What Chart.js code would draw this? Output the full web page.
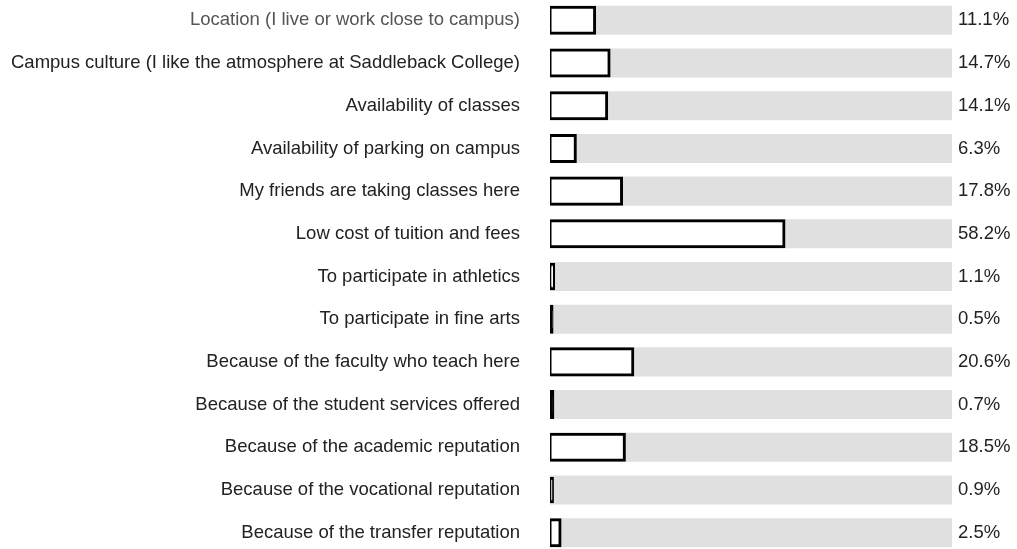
<!DOCTYPE html>
<html>
<head>
<meta charset="utf-8">
<title>Reasons for choosing Saddleback College</title>
<script src="https://cdn.jsdelivr.net/npm/chart.js"></script>
<style>
  html, body { margin: 0; padding: 0; background: #ffffff; overflow: hidden; }
  #wrap { position: absolute; left: 0; top: -1px; width: 1017px; height: 555px; }
</style>
</head>
<body>
<div id="wrap"><canvas id="chart" width="1017" height="555"></canvas></div>
<script>
// Survey reasons, top to bottom
const categories = [
  "Location (I live or work close to campus)",
  "Campus culture (I like the atmosphere at Saddleback College)",
  "Availability of classes",
  "Availability of parking on campus",
  "My friends are taking classes here",
  "Low cost of tuition and fees",
  "To participate in athletics",
  "To participate in fine arts",
  "Because of the faculty who teach here",
  "Because of the student services offered",
  "Because of the academic reputation",
  "Because of the vocational reputation",
  "Because of the transfer reputation"
];

// Share of respondents (%)
const shares = [11.1, 14.7, 14.1, 6.3, 17.8, 58.2, 1.1, 0.5, 20.6, 0.7, 18.5, 0.9, 2.5];

// Full-width grey track behind each bar (100%)
const track = [100, 100, 100, 100, 100, 100, 100, 100, 100, 100, 100, 100, 100];

// Right-hand labels
const shareLabels = shares.map(v => v.toFixed(1) + "%");

const FONT = { family: "'Liberation Sans', Arial, Helvetica, sans-serif", size: 18.5 };
const STROKE = 3;

// Pixel width of a bar, used to keep the outline centred on the bar edge
function barWidthPx(ctx) {
  const x = ctx.chart.scales && ctx.chart.scales.x;
  if (!x || ctx.raw == null) return 100;
  return Math.abs(x.getPixelForValue(ctx.raw) - x.getPixelForValue(0));
}

new Chart(document.getElementById("chart"), {
  type: "bar",
  data: {
    labels: categories,
    datasets: [
      {
        data: shares,
        backgroundColor: ctx => barWidthPx(ctx) <= STROKE ? "#000000" : "#ffffff",
        borderColor: "#000000",
        borderWidth: STROKE,
        borderSkipped: false,
        inflateAmount: ctx => {
          const w = barWidthPx(ctx);
          return (w >= 2 * STROKE || w <= STROKE) ? STROKE / 2 : (w - STROKE) / 2;
        },
        barPercentage: 0.61,
        categoryPercentage: 1,
        grouped: false,
        order: 0
      },
      {
        data: track,
        backgroundColor: "#e0e0e0",
        borderWidth: 0,
        inflateAmount: 0,
        barPercentage: 0.68,
        categoryPercentage: 1,
        grouped: false,
        order: 1
      }
    ]
  },
  options: {
    indexAxis: "y",
    responsive: false,
    animation: false,
    devicePixelRatio: 1,
    layout: { padding: 0 },
    plugins: { legend: { display: false }, tooltip: { enabled: false } },
    scales: {
      x: { type: "linear", min: 0, max: 100, display: false },
      y: {
        type: "category",
        position: "left",
        offset: true,
        grid: { display: false, drawTicks: false },
        border: { display: false },
        ticks: {
          autoSkip: false,
          padding: 30,
          font: FONT,
          color: c => c.index === 0 ? "#555555" : "#222222"
        },
        afterFit: s => { s.width = 550; s.paddingTop = 0; s.paddingBottom = 0; }
      },
      y2: {
        type: "category",
        position: "right",
        labels: shareLabels,
        offset: true,
        grid: { display: false, drawTicks: false },
        border: { display: false },
        ticks: { autoSkip: false, padding: 6, font: FONT, color: "#222222" },
        afterFit: s => { s.width = 65; s.paddingTop = 0; s.paddingBottom = 0; }
      }
    }
  }
});
</script>
</body>
</html>
